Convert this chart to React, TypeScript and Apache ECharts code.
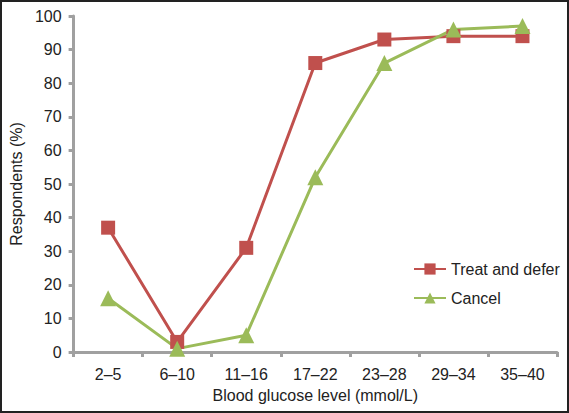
import React, { useEffect, useRef } from "react";
import * as echarts from "echarts";

const categories = ["2–5", "6–10", "11–16", "17–22", "23–28", "29–34", "35–40"];
const treatAndDefer = [37, 3, 31, 86, 93, 94, 94];
const cancel = [16, 1, 5, 52, 86, 96, 97];
const yTicks = { min: 0, max: 100, interval: 10 };

const RED = "#C0504D";
const GREEN = "#9BBB59";
const FONT = "Liberation Sans, Arial, sans-serif";

export default function App() {
  const ref = useRef<HTMLDivElement>(null);
  useEffect(() => {
    document.body.style.margin = "0";
    const chart = echarts.init(ref.current!, null, { renderer: "svg" });
    chart.setOption({
      animation: false,
      backgroundColor: "#ffffff",
      textStyle: { fontFamily: FONT },
      graphic: [
        {
          type: "rect",
          shape: { x: 1, y: 1, width: 567, height: 411 },
          style: { fill: "none", stroke: "#222", lineWidth: 2 },
          silent: true,
        },
      ],
      grid: { left: 62, right: 12, top: 16, bottom: 61 },
      legend: {
        orient: "vertical",
        left: 408,
        top: 256,
        itemWidth: 32,
        itemHeight: 14,
        itemGap: 13,
        textStyle: { fontSize: 16, color: "#222", fontFamily: FONT },
        data: ["Treat and defer", "Cancel"],
      },
      xAxis: {
        type: "category",
        data: categories,
        boundaryGap: true,
        name: "Blood glucose level (mmol/L)",
        nameLocation: "middle",
        nameGap: 35,
        nameTextStyle: { fontSize: 16, color: "#222", verticalAlign: "top", fontFamily: FONT },
        axisLine: { lineStyle: { color: "#a0a0a0", width: 3 } },
        axisTick: { show: true, length: 5, alignWithLabel: false, lineStyle: { color: "#a0a0a0", width: 3 } },
        axisLabel: { fontSize: 16, color: "#222", margin: 14, fontFamily: FONT },
        splitLine: { show: false },
      },
      yAxis: {
        type: "value",
        min: yTicks.min,
        max: yTicks.max,
        interval: yTicks.interval,
        name: "Respondents (%)",
        nameLocation: "middle",
        nameGap: 42,
        nameRotate: 90,
        nameTextStyle: { fontSize: 16, color: "#222", fontFamily: FONT },
        axisLine: { show: true, lineStyle: { color: "#a0a0a0", width: 3 } },
        axisTick: { show: true, length: 5, lineStyle: { color: "#a0a0a0", width: 3 } },
        axisLabel: { fontSize: 16, color: "#222", margin: 12, fontFamily: FONT },
        splitLine: { show: false },
      },
      series: [
        {
          name: "Treat and defer",
          type: "line",
          data: treatAndDefer,
          symbol: "rect",
          symbolSize: 14,
          lineStyle: { color: RED, width: 3 },
          itemStyle: { color: RED },
        },
        {
          name: "Cancel",
          type: "line",
          data: cancel,
          symbol: "triangle",
          symbolSize: 16,
          lineStyle: { color: GREEN, width: 3 },
          itemStyle: { color: GREEN },
        },
      ],
    });
    return () => chart.dispose();
  }, []);
  return <div ref={ref} style={{ width: 569, height: 413 }} />;
}
